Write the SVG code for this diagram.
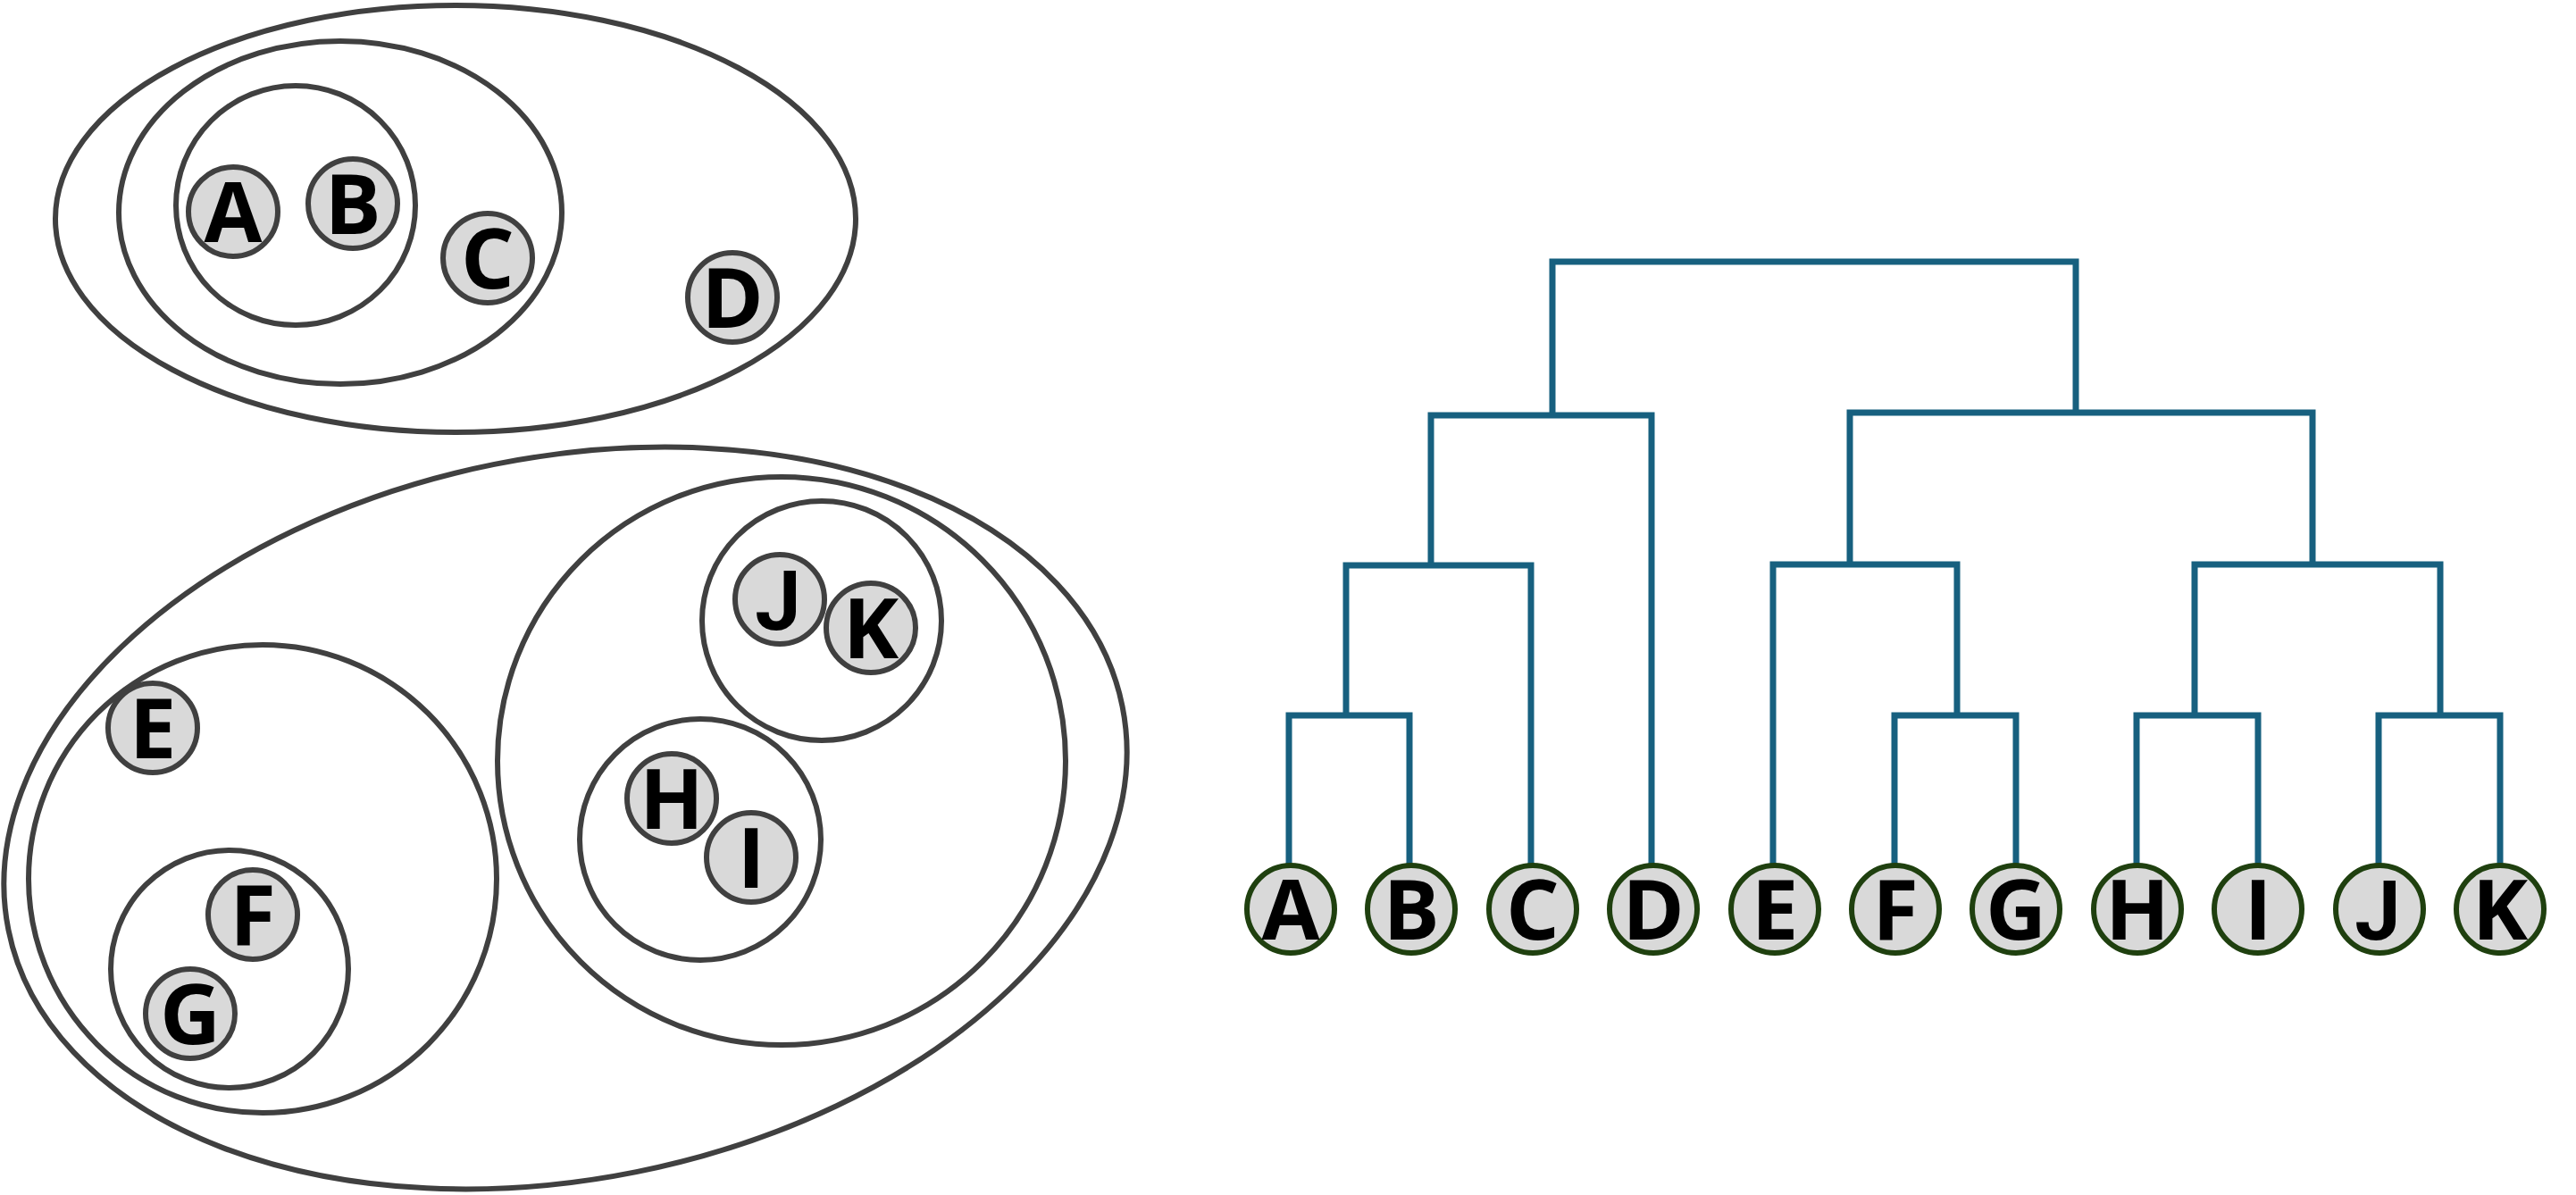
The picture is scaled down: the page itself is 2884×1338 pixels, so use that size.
<svg xmlns="http://www.w3.org/2000/svg" width="2884" height="1338" viewBox="0 0 2884 1338">
<style>
.grp{fill:none;stroke:#404040;stroke-width:6}
.n circle{fill:#d9d9d9;stroke:#404040;stroke-width:6}
.lf circle{fill:#d9d9d9;stroke:#1f400f;stroke-width:6}
text{font-family:"Open Sans","DejaVu Sans",sans-serif;font-weight:bold;font-size:94px;text-anchor:middle;fill:#000}
text.j{font-family:Roboto,"Liberation Sans",sans-serif;font-size:92px}
.con path{fill:none;stroke:#17607f;stroke-width:7;stroke-linejoin:miter}
</style>
<rect width="2884" height="1338" fill="#fff"/>
<g id="clusters">
<ellipse class="grp" cx="510" cy="245" rx="448" ry="239"/>
<ellipse class="grp" cx="381" cy="238" rx="248" ry="192"/>
<circle class="grp" cx="331" cy="230" r="134"/>
<ellipse class="grp" cx="633" cy="916" rx="636" ry="404" transform="rotate(-11.35 633 916)"/>
<circle class="grp" cx="294" cy="984" r="262"/>
<circle class="grp" cx="257" cy="1085" r="133"/>
<circle class="grp" cx="875" cy="852" r="318"/>
<circle class="grp" cx="920" cy="695" r="134"/>
<circle class="grp" cx="784" cy="940" r="135"/>
</g>
<g id="setA" class="n"><circle cx="261" cy="237" r="50"/><text x="261" y="271">A</text></g>
<g id="setB" class="n"><circle cx="395" cy="228" r="50"/><text x="395" y="262">B</text></g>
<g id="setC" class="n"><circle cx="546" cy="289" r="50"/><text x="546" y="323">C</text></g>
<g id="setD" class="n"><circle cx="820" cy="333" r="50"/><text x="820" y="367">D</text></g>
<g id="setE" class="n"><circle cx="171" cy="815" r="50"/><text x="171" y="849">E</text></g>
<g id="setF" class="n"><circle cx="283" cy="1024" r="50"/><text x="283" y="1058">F</text></g>
<g id="setG" class="n"><circle cx="213" cy="1135" r="50"/><text x="213" y="1169">G</text></g>
<g id="setH" class="n"><circle cx="752" cy="894" r="50"/><text x="752" y="928">H</text></g>
<g id="setI" class="n"><circle cx="841" cy="960" r="50"/><text x="841" y="994">I</text></g>
<g id="setJ" class="n"><circle cx="873" cy="671" r="50"/><text class="j" x="871" y="705">J</text></g>
<g id="setK" class="n"><circle cx="975" cy="703" r="50"/><text x="975" y="737">K</text></g>
<g id="connectors" class="con">
<path d="M1738,465 V293 H2324 V462"/>
<path d="M1602,633 V465 H1849 V967"/>
<path d="M2071,632 V462 H2589 V632"/>
<path d="M1507,800 V633 H1714 V967"/>
<path d="M1985,967 V632 H2191 V800"/>
<path d="M2457,800 V632 H2732 V800"/>
<path d="M1443,967 V801 H1578 V967"/>
<path d="M2121,967 V801 H2257 V967"/>
<path d="M2392,967 V801 H2528 V967"/>
<path d="M2663,967 V801 H2799 V967"/>
</g>
<g id="leafA" class="lf"><circle cx="1445" cy="1018" r="49"/><text x="1445" y="1052">A</text></g>
<g id="leafB" class="lf"><circle cx="1580" cy="1018" r="49"/><text x="1580" y="1052">B</text></g>
<g id="leafC" class="lf"><circle cx="1716" cy="1018" r="49"/><text x="1716" y="1052">C</text></g>
<g id="leafD" class="lf"><circle cx="1851" cy="1018" r="49"/><text x="1851" y="1052">D</text></g>
<g id="leafE" class="lf"><circle cx="1987" cy="1018" r="49"/><text x="1987" y="1052">E</text></g>
<g id="leafF" class="lf"><circle cx="2122" cy="1018" r="49"/><text x="2122" y="1052">F</text></g>
<g id="leafG" class="lf"><circle cx="2257" cy="1018" r="49"/><text x="2257" y="1052">G</text></g>
<g id="leafH" class="lf"><circle cx="2393" cy="1018" r="49"/><text x="2393" y="1052">H</text></g>
<g id="leafI" class="lf"><circle cx="2528" cy="1018" r="49"/><text x="2528" y="1052">I</text></g>
<g id="leafJ" class="lf"><circle cx="2664" cy="1018" r="49"/><text class="j" x="2662" y="1052">J</text></g>
<g id="leafK" class="lf"><circle cx="2799" cy="1018" r="49"/><text x="2799" y="1052">K</text></g>
</svg>
